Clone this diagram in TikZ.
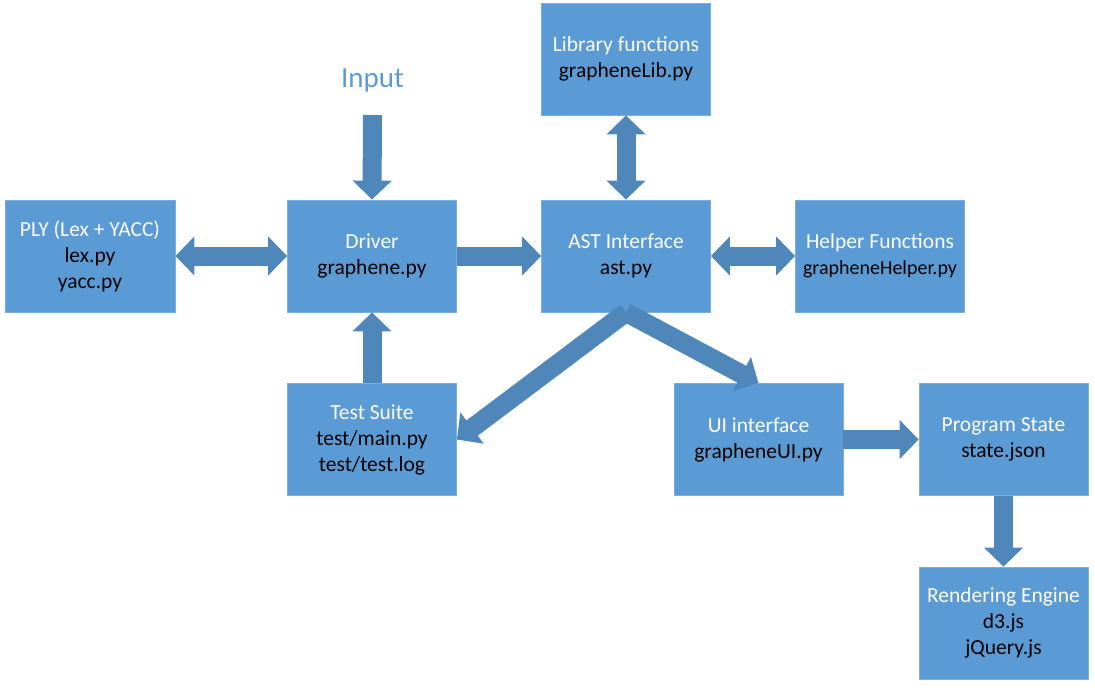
\documentclass[tikz,border=0pt]{standalone}
\usepackage{fontspec}
\setmainfont{Carlito}
\usetikzlibrary{arrows.meta}
\definecolor{boxfill}{HTML}{5B9BD5}
\definecolor{boxline}{HTML}{7AAEDD}
\definecolor{arrfill}{HTML}{4F87BA}
\definecolor{inputblue}{HTML}{5B9BD5}
\tikzset{
  blk/.style={rectangle, fill=boxfill, draw=boxline, line width=0.8pt,
    minimum width=169pt, minimum height=112pt, align=center, text=black,
    font=\fontsize{21.5}{26}\selectfont, inner sep=0pt},
  barrow/.style={draw=arrfill, line width=19pt,
    -{Triangle[width=38pt,length=19pt,fill=arrfill]}},
  dbarrow/.style={draw=arrfill, line width=19pt,
    {Triangle[width=38pt,length=19pt,fill=arrfill]}-{Triangle[width=38pt,length=19pt,fill=arrfill]}},
}
\newcommand{\ttl}[1]{\textcolor{white}{#1}}
\begin{document}
\begin{tikzpicture}[x=1pt,y=-1pt]
\useasboundingbox (0,0) rectangle (1095,688);
\node[blk] (lib) at (626,59) {\ttl{Library functions}\\grapheneLib.py};
\node[blk, minimum width=170pt] (ply) at (90,256) {\ttl{PLY (Lex + YACC)}\\lex.py\\yacc.py};
\node[blk] (drv) at (372,256) {\ttl{Driver}\\graphene.py};
\node[blk] (ast) at (626,256) {\ttl{AST Interface}\\ast.py};
\node[blk] (hlp) at (880,256) {\ttl{Helper Functions}\\{\fontsize{20}{26}\selectfont grapheneHelper.py}};
\node[blk] (tst) at (372,439.5) {\ttl{Test Suite}\\test/main.py\\test/test.log};
\node[blk] (ui) at (758.5,439.5) {\ttl{UI interface}\\grapheneUI.py};
\node[blk] (st) at (1003.5,439.5) {\ttl{Program State}\\state.json};
\node[blk] (rnd) at (1003.5,623) {\ttl{Rendering Engine}\\d3.js\\jQuery.js};
\node[text=inputblue, font=\fontsize{29}{34}\selectfont] (inp) at (372.5,81) {Input};
\coordinate (inpa) at (372.5,115);
\draw[barrow] (inpa) -- (drv.north);
\draw[dbarrow] (ply.east) -- (drv.west);
\draw[barrow] (drv.east) -- (ast.west);
\draw[dbarrow] (lib.south) -- (ast.north);
\draw[dbarrow] (ast.east) -- (hlp.west);
\draw[barrow] (tst.north) -- (drv.south);
\draw[barrow] (ast.south) -- (tst.east);
\draw[barrow] (ast.south) -- (ui.north);
\draw[barrow] (ui.east) -- (st.west);
\draw[barrow] (st.south) -- (rnd.north);
\end{tikzpicture}
\end{document}
